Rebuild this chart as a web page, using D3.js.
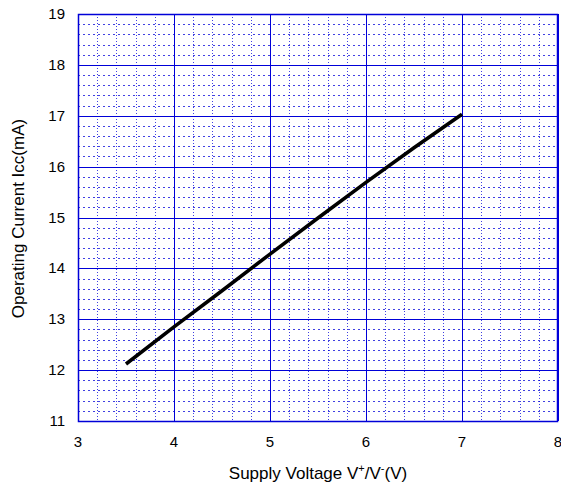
<!DOCTYPE html>
<html>
<head>
<meta charset="utf-8">
<script src="https://cdn.jsdelivr.net/npm/d3@7"></script>
<style>
  body { margin: 0; background: #fff; }
  text { font-family: "Liberation Sans", Arial, sans-serif; fill: #000; }
</style>
</head>
<body>
<div id="chart"></div>
<script>
// data
const voltage = [3.5, 4, 4.5, 5, 5.5, 6, 6.5, 7];
const current = [12.12, 12.85, 13.56, 14.28, 14.99, 15.69, 16.37, 17.03];
const xTicks = [3, 4, 5, 6, 7, 8];
const yTicks = [11, 12, 13, 14, 15, 16, 17, 18, 19];

const W = 561, H = 486;
const margin = {top: 14, right: 3, bottom: 65, left: 78};
const width = W - margin.left - margin.right;
const height = H - margin.top - margin.bottom;

const svg = d3.select("#chart").append("svg")
    .attr("width", W).attr("height", H);
const g = svg.append("g").attr("transform", `translate(${margin.left},${margin.top})`);

const x = d3.scaleLinear().domain([3, 8]).range([0, width]);
const y = d3.scaleLinear().domain([11, 19]).range([height, 0]);

const blue = "#0000d8";

// minor dotted grid (5 subdivisions)
const xMinor = d3.range(3, 8, 0.2).filter(v => Math.abs(v - Math.round(v)) > 0.01);
const yMinor = d3.range(11, 19, 0.2).filter(v => Math.abs(v - Math.round(v)) > 0.01);

g.selectAll(".vminor").data(xMinor).join("line")
    .attr("x1", d => Math.round(x(d)) + 0.5).attr("x2", d => Math.round(x(d)) + 0.5)
    .attr("y1", 0).attr("y2", height)
    .attr("stroke", blue).attr("stroke-opacity", 0.75).attr("stroke-dasharray", "1,2");
g.selectAll(".hminor").data(yMinor).join("line")
    .attr("y1", d => Math.round(y(d)) + 0.5).attr("y2", d => Math.round(y(d)) + 0.5)
    .attr("x1", 0).attr("x2", width)
    .attr("stroke", blue).attr("stroke-opacity", 0.75).attr("stroke-dasharray", "2,3");

// major solid grid
g.selectAll(".vmajor").data(xTicks).join("line")
    .attr("x1", d => Math.round(x(d)) + 0.5).attr("x2", d => Math.round(x(d)) + 0.5)
    .attr("y1", 0).attr("y2", height)
    .attr("stroke", blue);
g.selectAll(".hmajor").data(yTicks).join("line")
    .attr("y1", d => Math.round(y(d)) + 0.5).attr("y2", d => Math.round(y(d)) + 0.5)
    .attr("x1", 0).attr("x2", width)
    .attr("stroke", blue);

g.append("rect").attr("x", 0.5).attr("y", 0.5)
    .attr("width", width - 1).attr("height", height)
    .attr("fill", "none").attr("stroke", blue).attr("stroke-width", 1.5);

// data line
const line = d3.line().x((d, i) => x(voltage[i])).y(d => y(d));
g.append("path").datum(current)
    .attr("d", line)
    .attr("fill", "none").attr("stroke", "#000").attr("stroke-width", 3.6);

// tick labels
g.selectAll(".xl").data(xTicks).join("text")
    .attr("x", d => x(d)).attr("y", height + 26)
    .attr("text-anchor", "middle").style("font-size", "15px")
    .text(d => d);
g.selectAll(".yl").data(yTicks).join("text")
    .attr("x", -13).attr("y", d => y(d) + 5)
    .attr("text-anchor", "end").style("font-size", "15px")
    .text(d => d);

// axis titles
const xt = svg.append("text")
    .attr("x", 318).attr("y", 479)
    .attr("text-anchor", "middle").style("font-size", "17px");
xt.append("tspan").text("Supply Voltage V");
xt.append("tspan").attr("dy", -7).style("font-size", "11px").text("+");
xt.append("tspan").attr("dy", 7).text("/V");
xt.append("tspan").attr("dy", -7).style("font-size", "11px").text("-");
xt.append("tspan").attr("dy", 7).text("(V)");

svg.append("text")
    .attr("transform", `translate(24,${margin.top + height / 2 + 1}) rotate(-90)`)
    .attr("text-anchor", "middle").style("font-size", "17px")
    .text("Operating Current Icc(mA)");
</script>
</body>
</html>
